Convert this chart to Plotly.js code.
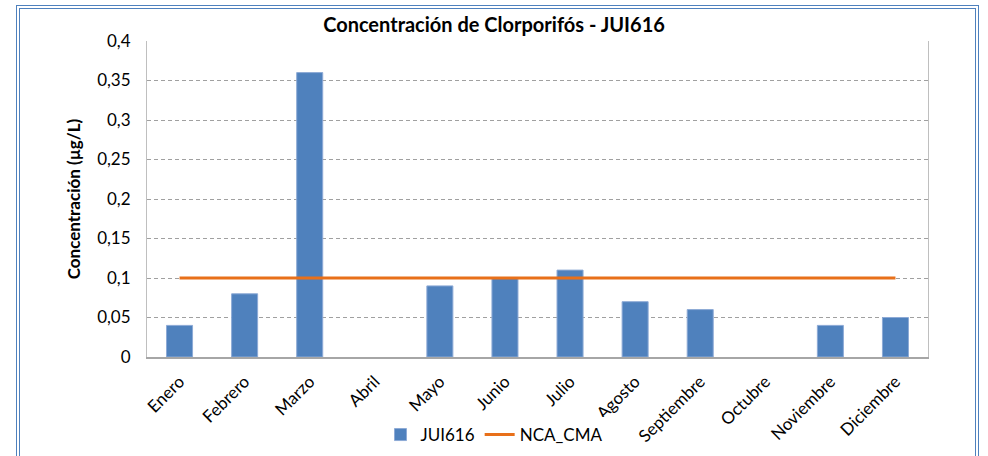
<!DOCTYPE html>
<html>
<head>
<meta charset="utf-8">
<script src="https://cdn.plot.ly/plotly-3.0.1.min.js"></script>
<style>
  html, body { margin: 0; padding: 0; background: #fff; }
  #wrap { position: relative; width: 988px; height: 456px; overflow: hidden; }
  #chart { position: absolute; left: 0; top: 0; width: 988px; height: 456px; }
  #frame { position: absolute; left: 16px; top: 5px; width: 955px; height: 470px;
           border: 4px double #4F81BD; pointer-events: none; box-sizing: content-box; }
</style>
</head>
<body>
<div id="wrap">
  <div id="chart"></div>
  <div id="frame"></div>
</div>
<script>
const months = ["Enero","Febrero","Marzo","Abril","Mayo","Junio","Julio","Agosto","Septiembre","Octubre","Noviembre","Diciembre"];
const jui616 = [0.04, 0.08, 0.36, null, 0.09, 0.10, 0.11, 0.07, 0.06, null, 0.04, 0.05];
const ncaCma = [0.1, 0.1, 0.1, 0.1, 0.1, 0.1, 0.1, 0.1, 0.1, 0.1, 0.1, 0.1];
const yTickVals = [0, 0.05, 0.1, 0.15, 0.2, 0.25, 0.3, 0.35, 0.4];
const yTickText = ["0", "0,05", "0,1", "0,15", "0,2", "0,25", "0,3", "0,35", "0,4"];

const FONT = "Lato, 'Open Sans', sans-serif";

const traces = [
  {
    type: 'bar', name: 'JUI616', x: months, y: jui616,
    marker: { color: '#4F81BD', line: { color: '#8DAAD6', width: 1 } }
  },
  {
    type: 'scatter', mode: 'lines', name: 'NCA_CMA', x: months, y: ncaCma,
    line: { color: '#E8701A', width: 3 }
  }
];

const layout = {
  width: 988, height: 456,
  margin: { l: 147, r: 60, t: 41, b: 99 },
  paper_bgcolor: '#fff', plot_bgcolor: '#fff',
  separators: ',.',
  font: { family: FONT, size: 17, color: '#000' },
  title: {
    text: '<b>Concentración de Clorporifós - JUI616</b>',
    font: { family: FONT, size: 20, color: '#000' },
    x: 0.5, xref: 'container', xanchor: 'center',
    y: 1 - 25/456, yref: 'container', yanchor: 'middle'
  },
  bargap: 0.6,
  xaxis: {
    type: 'category', tickangle: -45, showgrid: false,
    showline: true, linecolor: '#A6A6A6', linewidth: 2, mirror: false,
    ticks: '', tickfont: { family: FONT, size: 17 },
    ticklabelstandoff: 6
  },
  yaxis: {
    range: [0, 0.4], tickvals: yTickVals, ticktext: yTickText,
    showgrid: true, gridcolor: '#A0A0A0', griddash: '4px,3px', gridwidth: 1,
    showline: true, linecolor: '#BFBFBF', linewidth: 1, mirror: true,
    zeroline: false, ticks: '', ticklabelstandoff: 12,
    tickfont: { family: FONT, size: 17 },
    title: { text: '<b>Concentración (µg/L)</b>', font: { family: FONT, size: 17 }, standoff: 12 }
  },
  showlegend: true,
  legend: {
    orientation: 'h', xref: 'container', yref: 'container',
    x: 0.5, xanchor: 'center', y: 1 - 435/456, yanchor: 'middle',
    font: { family: FONT, size: 17 }, traceorder: 'normal',
    itemwidth: 30
  }
};

Plotly.newPlot('chart', traces, layout, { displayModeBar: false, staticPlot: true });
</script>
</body>
</html>
